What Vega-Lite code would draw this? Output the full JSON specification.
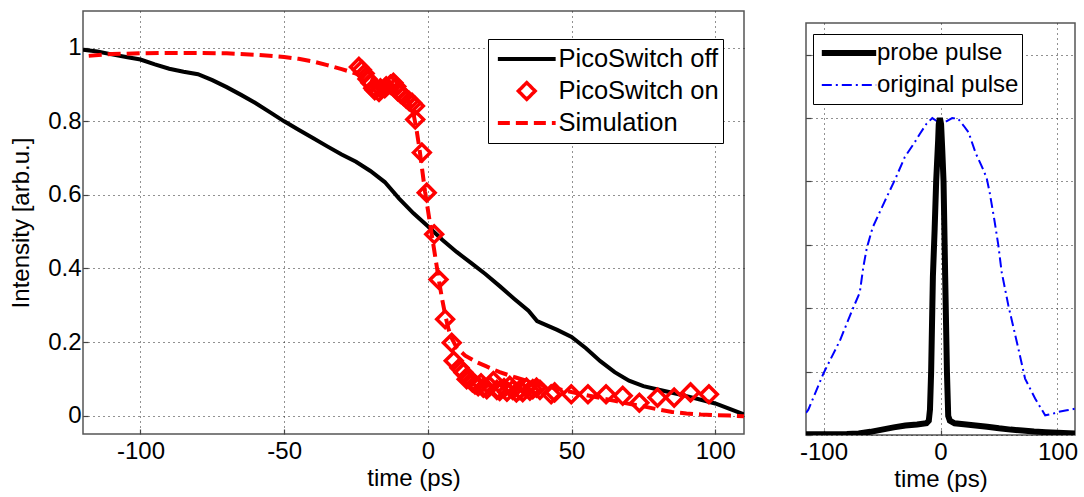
{
  "$schema": "https://vega.github.io/schema/vega-lite/v6.json",
  "background": "white",
  "padding": {"left": 8, "top": 10, "right": 0, "bottom": 0},
  "config": {
    "font": "Liberation Sans",
    "view": {"stroke": "#555", "strokeWidth": 1.5},
    "axis": {
      "labelFont": "Liberation Sans", "titleFont": "Liberation Sans",
      "labelColor": "black", "titleColor": "black", "titleFontWeight": "normal",
      "labelFontSize": 24, "titleFontSize": 24,
      "gridColor": "#222", "gridDash": [1, 4], "gridWidth": 1, "gridOpacity": 1,
      "domain": false, "tickColor": "#444", "tickSize": -5, "tickWidth": 1.2,
      "labelFlush": false, "labelOverlap": false
    },
    "axisX": {"labelPadding": 10},
    "axisY": {"labelPadding": 7}
  },
  "datasets": {
    "off": [
      {"t": -120, "v": 0.995, "series": "PicoSwitch off"}, {"t": -115, "v": 0.99, "series": "PicoSwitch off"},
      {"t": -110, "v": 0.982, "series": "PicoSwitch off"}, {"t": -105, "v": 0.975, "series": "PicoSwitch off"},
      {"t": -100, "v": 0.968, "series": "PicoSwitch off"}, {"t": -95, "v": 0.955, "series": "PicoSwitch off"},
      {"t": -90, "v": 0.943, "series": "PicoSwitch off"}, {"t": -85, "v": 0.935, "series": "PicoSwitch off"},
      {"t": -80, "v": 0.928, "series": "PicoSwitch off"}, {"t": -75, "v": 0.912, "series": "PicoSwitch off"},
      {"t": -70, "v": 0.893, "series": "PicoSwitch off"}, {"t": -65, "v": 0.872, "series": "PicoSwitch off"},
      {"t": -60, "v": 0.85, "series": "PicoSwitch off"}, {"t": -55, "v": 0.825, "series": "PicoSwitch off"},
      {"t": -50, "v": 0.8, "series": "PicoSwitch off"}, {"t": -45, "v": 0.777, "series": "PicoSwitch off"},
      {"t": -40, "v": 0.755, "series": "PicoSwitch off"}, {"t": -35, "v": 0.732, "series": "PicoSwitch off"},
      {"t": -30, "v": 0.71, "series": "PicoSwitch off"}, {"t": -25, "v": 0.69, "series": "PicoSwitch off"},
      {"t": -20, "v": 0.665, "series": "PicoSwitch off"}, {"t": -15, "v": 0.635, "series": "PicoSwitch off"},
      {"t": -10, "v": 0.59, "series": "PicoSwitch off"}, {"t": -5, "v": 0.55, "series": "PicoSwitch off"},
      {"t": 0, "v": 0.515, "series": "PicoSwitch off"}, {"t": 5, "v": 0.478, "series": "PicoSwitch off"},
      {"t": 10, "v": 0.445, "series": "PicoSwitch off"}, {"t": 15, "v": 0.415, "series": "PicoSwitch off"},
      {"t": 20, "v": 0.385, "series": "PicoSwitch off"}, {"t": 25, "v": 0.352, "series": "PicoSwitch off"},
      {"t": 30, "v": 0.318, "series": "PicoSwitch off"}, {"t": 35, "v": 0.285, "series": "PicoSwitch off"},
      {"t": 38, "v": 0.257, "series": "PicoSwitch off"}, {"t": 40, "v": 0.25, "series": "PicoSwitch off"},
      {"t": 45, "v": 0.233, "series": "PicoSwitch off"}, {"t": 50, "v": 0.214, "series": "PicoSwitch off"},
      {"t": 55, "v": 0.183, "series": "PicoSwitch off"}, {"t": 60, "v": 0.148, "series": "PicoSwitch off"},
      {"t": 65, "v": 0.118, "series": "PicoSwitch off"}, {"t": 70, "v": 0.095, "series": "PicoSwitch off"},
      {"t": 75, "v": 0.08, "series": "PicoSwitch off"}, {"t": 80, "v": 0.071, "series": "PicoSwitch off"},
      {"t": 85, "v": 0.062, "series": "PicoSwitch off"}, {"t": 90, "v": 0.053, "series": "PicoSwitch off"},
      {"t": 95, "v": 0.043, "series": "PicoSwitch off"}, {"t": 100, "v": 0.033, "series": "PicoSwitch off"},
      {"t": 105, "v": 0.018, "series": "PicoSwitch off"}, {"t": 110, "v": 0.003, "series": "PicoSwitch off"}
    ],
    "on": [
      {"t": -24, "v": 0.948, "series": "PicoSwitch on"}, {"t": -23, "v": 0.94, "series": "PicoSwitch on"},
      {"t": -22, "v": 0.93, "series": "PicoSwitch on"}, {"t": -21, "v": 0.915, "series": "PicoSwitch on"},
      {"t": -20, "v": 0.905, "series": "PicoSwitch on"}, {"t": -19, "v": 0.89, "series": "PicoSwitch on"},
      {"t": -18.5, "v": 0.885, "series": "PicoSwitch on"}, {"t": -17, "v": 0.88, "series": "PicoSwitch on"},
      {"t": -16.5, "v": 0.89, "series": "PicoSwitch on"}, {"t": -15, "v": 0.89, "series": "PicoSwitch on"},
      {"t": -14.5, "v": 0.895, "series": "PicoSwitch on"}, {"t": -13, "v": 0.9, "series": "PicoSwitch on"},
      {"t": -12, "v": 0.905, "series": "PicoSwitch on"}, {"t": -11, "v": 0.895, "series": "PicoSwitch on"},
      {"t": -10.5, "v": 0.882, "series": "PicoSwitch on"}, {"t": -9.5, "v": 0.875, "series": "PicoSwitch on"},
      {"t": -8.5, "v": 0.869, "series": "PicoSwitch on"}, {"t": -7.5, "v": 0.862, "series": "PicoSwitch on"},
      {"t": -6.5, "v": 0.855, "series": "PicoSwitch on"}, {"t": -5.5, "v": 0.85, "series": "PicoSwitch on"},
      {"t": -4.5, "v": 0.842, "series": "PicoSwitch on"}, {"t": -4.4, "v": 0.805, "series": "PicoSwitch on"},
      {"t": -2.1, "v": 0.715, "series": "PicoSwitch on"}, {"t": -0.4, "v": 0.606, "series": "PicoSwitch on"},
      {"t": 2.2, "v": 0.493, "series": "PicoSwitch on"}, {"t": 3.7, "v": 0.37, "series": "PicoSwitch on"},
      {"t": 6, "v": 0.262, "series": "PicoSwitch on"}, {"t": 8.3, "v": 0.198, "series": "PicoSwitch on"},
      {"t": 9, "v": 0.149, "series": "PicoSwitch on"}, {"t": 11, "v": 0.13, "series": "PicoSwitch on"},
      {"t": 12.4, "v": 0.117, "series": "PicoSwitch on"}, {"t": 13.5, "v": 0.099, "series": "PicoSwitch on"},
      {"t": 14.5, "v": 0.1, "series": "PicoSwitch on"}, {"t": 15.5, "v": 0.09, "series": "PicoSwitch on"},
      {"t": 16.4, "v": 0.085, "series": "PicoSwitch on"}, {"t": 17.5, "v": 0.08, "series": "PicoSwitch on"},
      {"t": 18.5, "v": 0.088, "series": "PicoSwitch on"}, {"t": 19.3, "v": 0.076, "series": "PicoSwitch on"},
      {"t": 20.5, "v": 0.072, "series": "PicoSwitch on"}, {"t": 21.5, "v": 0.08, "series": "PicoSwitch on"},
      {"t": 22.8, "v": 0.094, "series": "PicoSwitch on"}, {"t": 24, "v": 0.07, "series": "PicoSwitch on"},
      {"t": 25, "v": 0.067, "series": "PicoSwitch on"}, {"t": 26.5, "v": 0.075, "series": "PicoSwitch on"},
      {"t": 27.5, "v": 0.065, "series": "PicoSwitch on"}, {"t": 28.5, "v": 0.081, "series": "PicoSwitch on"},
      {"t": 29.5, "v": 0.07, "series": "PicoSwitch on"}, {"t": 30.8, "v": 0.063, "series": "PicoSwitch on"},
      {"t": 32, "v": 0.07, "series": "PicoSwitch on"}, {"t": 33, "v": 0.064, "series": "PicoSwitch on"},
      {"t": 34.3, "v": 0.076, "series": "PicoSwitch on"}, {"t": 35.5, "v": 0.068, "series": "PicoSwitch on"},
      {"t": 36.5, "v": 0.072, "series": "PicoSwitch on"}, {"t": 37.8, "v": 0.076, "series": "PicoSwitch on"},
      {"t": 39, "v": 0.07, "series": "PicoSwitch on"}, {"t": 42.9, "v": 0.058, "series": "PicoSwitch on"},
      {"t": 44.1, "v": 0.063, "series": "PicoSwitch on"}, {"t": 49.9, "v": 0.058, "series": "PicoSwitch on"},
      {"t": 55.7, "v": 0.058, "series": "PicoSwitch on"}, {"t": 62, "v": 0.058, "series": "PicoSwitch on"},
      {"t": 67.8, "v": 0.054, "series": "PicoSwitch on"}, {"t": 73.6, "v": 0.035, "series": "PicoSwitch on"},
      {"t": 79.9, "v": 0.049, "series": "PicoSwitch on"}, {"t": 85.7, "v": 0.049, "series": "PicoSwitch on"},
      {"t": 91.4, "v": 0.063, "series": "PicoSwitch on"}, {"t": 97.8, "v": 0.058, "series": "PicoSwitch on"}
    ],
    "sim": [
      {"t": -118, "v": 0.978, "series": "Simulation"}, {"t": -110, "v": 0.983, "series": "Simulation"},
      {"t": -100, "v": 0.985, "series": "Simulation"}, {"t": -90, "v": 0.986, "series": "Simulation"},
      {"t": -80, "v": 0.986, "series": "Simulation"}, {"t": -70, "v": 0.985, "series": "Simulation"},
      {"t": -60, "v": 0.981, "series": "Simulation"}, {"t": -50, "v": 0.975, "series": "Simulation"},
      {"t": -45, "v": 0.97, "series": "Simulation"}, {"t": -40, "v": 0.963, "series": "Simulation"},
      {"t": -35, "v": 0.953, "series": "Simulation"}, {"t": -30, "v": 0.942, "series": "Simulation"},
      {"t": -25, "v": 0.93, "series": "Simulation"}, {"t": -20, "v": 0.915, "series": "Simulation"},
      {"t": -15, "v": 0.9, "series": "Simulation"}, {"t": -10, "v": 0.88, "series": "Simulation"},
      {"t": -7, "v": 0.86, "series": "Simulation"}, {"t": -5, "v": 0.82, "series": "Simulation"},
      {"t": -4, "v": 0.78, "series": "Simulation"}, {"t": -3, "v": 0.73, "series": "Simulation"},
      {"t": -2, "v": 0.67, "series": "Simulation"}, {"t": -1, "v": 0.61, "series": "Simulation"},
      {"t": 0, "v": 0.56, "series": "Simulation"}, {"t": 1, "v": 0.51, "series": "Simulation"},
      {"t": 2, "v": 0.46, "series": "Simulation"}, {"t": 3, "v": 0.41, "series": "Simulation"},
      {"t": 4, "v": 0.36, "series": "Simulation"}, {"t": 5, "v": 0.315, "series": "Simulation"},
      {"t": 6, "v": 0.275, "series": "Simulation"}, {"t": 7, "v": 0.24, "series": "Simulation"},
      {"t": 8, "v": 0.215, "series": "Simulation"}, {"t": 10, "v": 0.185, "series": "Simulation"},
      {"t": 13, "v": 0.163, "series": "Simulation"}, {"t": 17, "v": 0.145, "series": "Simulation"},
      {"t": 20, "v": 0.135, "series": "Simulation"}, {"t": 25, "v": 0.118, "series": "Simulation"},
      {"t": 30, "v": 0.105, "series": "Simulation"}, {"t": 35, "v": 0.093, "series": "Simulation"},
      {"t": 40, "v": 0.083, "series": "Simulation"}, {"t": 45, "v": 0.073, "series": "Simulation"},
      {"t": 50, "v": 0.064, "series": "Simulation"}, {"t": 55, "v": 0.056, "series": "Simulation"},
      {"t": 60, "v": 0.048, "series": "Simulation"}, {"t": 65, "v": 0.04, "series": "Simulation"},
      {"t": 70, "v": 0.032, "series": "Simulation"}, {"t": 75, "v": 0.025, "series": "Simulation"},
      {"t": 80, "v": 0.017, "series": "Simulation"}, {"t": 85, "v": 0.01, "series": "Simulation"},
      {"t": 90, "v": 0.006, "series": "Simulation"}, {"t": 95, "v": 0.003, "series": "Simulation"},
      {"t": 100, "v": 0.001, "series": "Simulation"}, {"t": 105, "v": 0.0, "series": "Simulation"},
      {"t": 110, "v": -0.002, "series": "Simulation"}
    ],
    "probe": [
      {"t": -115, "v": 0.002, "series": "probe pulse"}, {"t": -100, "v": 0.002, "series": "probe pulse"},
      {"t": -80, "v": 0.003, "series": "probe pulse"}, {"t": -70, "v": 0.005, "series": "probe pulse"},
      {"t": -60, "v": 0.01, "series": "probe pulse"}, {"t": -50, "v": 0.017, "series": "probe pulse"},
      {"t": -40, "v": 0.024, "series": "probe pulse"}, {"t": -30, "v": 0.03, "series": "probe pulse"},
      {"t": -20, "v": 0.033, "series": "probe pulse"}, {"t": -12, "v": 0.037, "series": "probe pulse"},
      {"t": -10, "v": 0.045, "series": "probe pulse"}, {"t": -9, "v": 0.08, "series": "probe pulse"},
      {"t": -8, "v": 0.2, "series": "probe pulse"}, {"t": -6.5, "v": 0.5, "series": "probe pulse"},
      {"t": -5, "v": 0.65, "series": "probe pulse"}, {"t": -3.7, "v": 0.8, "series": "probe pulse"},
      {"t": -2, "v": 0.93, "series": "probe pulse"}, {"t": -1.5, "v": 0.98, "series": "probe pulse"},
      {"t": -0.5, "v": 1.0, "series": "probe pulse"}, {"t": 0.5, "v": 0.98, "series": "probe pulse"},
      {"t": 1.5, "v": 0.9, "series": "probe pulse"}, {"t": 2.6, "v": 0.8, "series": "probe pulse"},
      {"t": 4, "v": 0.5, "series": "probe pulse"}, {"t": 5.5, "v": 0.2, "series": "probe pulse"},
      {"t": 6.6, "v": 0.06, "series": "probe pulse"}, {"t": 8, "v": 0.045, "series": "probe pulse"},
      {"t": 12, "v": 0.037, "series": "probe pulse"}, {"t": 20, "v": 0.034, "series": "probe pulse"},
      {"t": 30, "v": 0.03, "series": "probe pulse"}, {"t": 40, "v": 0.026, "series": "probe pulse"},
      {"t": 50, "v": 0.021, "series": "probe pulse"}, {"t": 60, "v": 0.017, "series": "probe pulse"},
      {"t": 70, "v": 0.014, "series": "probe pulse"}, {"t": 80, "v": 0.011, "series": "probe pulse"},
      {"t": 90, "v": 0.009, "series": "probe pulse"}, {"t": 100, "v": 0.007, "series": "probe pulse"},
      {"t": 115, "v": 0.005, "series": "probe pulse"}
    ],
    "orig": [
      {"t": -115, "v": 0.07, "series": "original pulse"}, {"t": -113, "v": 0.08, "series": "original pulse"},
      {"t": -100, "v": 0.195, "series": "original pulse"}, {"t": -86, "v": 0.298, "series": "original pulse"},
      {"t": -75, "v": 0.398, "series": "original pulse"}, {"t": -69, "v": 0.45, "series": "original pulse"},
      {"t": -66, "v": 0.53, "series": "original pulse"}, {"t": -63, "v": 0.59, "series": "original pulse"},
      {"t": -58, "v": 0.655, "series": "original pulse"}, {"t": -48, "v": 0.735, "series": "original pulse"},
      {"t": -39, "v": 0.805, "series": "original pulse"}, {"t": -30.5, "v": 0.877, "series": "original pulse"},
      {"t": -22, "v": 0.924, "series": "original pulse"}, {"t": -17.7, "v": 0.95, "series": "original pulse"},
      {"t": -12, "v": 0.982, "series": "original pulse"}, {"t": -7, "v": 1.0, "series": "original pulse"},
      {"t": -3, "v": 0.99, "series": "original pulse"}, {"t": 1, "v": 0.98, "series": "original pulse"},
      {"t": 5, "v": 0.99, "series": "original pulse"}, {"t": 10, "v": 1.0, "series": "original pulse"},
      {"t": 15, "v": 0.998, "series": "original pulse"}, {"t": 20, "v": 0.975, "series": "original pulse"},
      {"t": 24, "v": 0.955, "series": "original pulse"}, {"t": 30, "v": 0.89, "series": "original pulse"},
      {"t": 35, "v": 0.85, "series": "original pulse"}, {"t": 39.4, "v": 0.812, "series": "original pulse"},
      {"t": 42, "v": 0.766, "series": "original pulse"}, {"t": 46, "v": 0.68, "series": "original pulse"},
      {"t": 49.4, "v": 0.6, "series": "original pulse"}, {"t": 52.3, "v": 0.514, "series": "original pulse"},
      {"t": 58, "v": 0.409, "series": "original pulse"}, {"t": 66.6, "v": 0.272, "series": "original pulse"},
      {"t": 72.3, "v": 0.178, "series": "original pulse"}, {"t": 80.9, "v": 0.115, "series": "original pulse"},
      {"t": 89.5, "v": 0.062, "series": "original pulse"}, {"t": 95, "v": 0.066, "series": "original pulse"},
      {"t": 100.9, "v": 0.073, "series": "original pulse"}, {"t": 108, "v": 0.078, "series": "original pulse"},
      {"t": 115, "v": 0.083, "series": "original pulse"}
    ]
  },
  "spacing": 53,
  "resolve": {"scale": {"color": "independent", "x": "independent", "y": "independent"}, "legend": {"color": "independent"}},
  "hconcat": [
    {
      "width": 661,
      "height": 423,
      "encoding": {
        "x": {"field": "t", "type": "quantitative", "scale": {"domain": [-120, 110], "nice": false, "zero": false},
          "axis": {"values": [-100, -50, 0, 50, 100], "grid": true, "title": "time (ps)", "titlePadding": 3,
            "labelExpr": "datum.value < 0 ? '-' + format(-datum.value, 'd') : format(datum.value, 'd')"}},
        "y": {"field": "v", "type": "quantitative", "scale": {"domain": [-0.05, 1.1], "nice": false, "zero": false},
          "axis": {"values": [0, 0.2, 0.4, 0.6, 0.8, 1], "grid": true, "title": "Intensity [arb.u.]", "titlePadding": 14,
            "labelExpr": "format(datum.value, '~g')"}},
        "color": {"field": "series", "type": "nominal",
          "scale": {"domain": ["PicoSwitch off", "PicoSwitch on", "Simulation"], "range": ["black", "red", "red"]},
          "legend": {
            "orient": "none", "legendX": 405, "legendY": 28, "direction": "vertical",
            "title": null, "strokeColor": "black", "fillColor": "white", "padding": 4,
            "labelFont": "Liberation Sans", "labelFontSize": 25.5, "labelColor": "black", "labelLimit": 400,
            "symbolType": "stroke", "symbolSize": 3340, "symbolOffset": 22, "labelOffset": 19,
            "clipHeight": 32, "rowPadding": 0,
            "encode": {"symbols": {"update": {
              "shape": {"signal": "datum.value === 'PicoSwitch on' ? 'diamond' : 'stroke'"},
              "size": {"signal": "datum.value === 'PicoSwitch on' ? 280 : 3340"},
              "strokeDash": {"signal": "datum.value === 'Simulation' ? [12, 6] : [1, 0]"},
              "strokeWidth": {"signal": "datum.value === 'PicoSwitch on' ? 3.5 : 4"},
              "fill": {"value": "transparent"},
              "stroke": {"signal": "datum.value === 'PicoSwitch off' ? 'black' : 'red'"}
            }}}
          }}
      },
      "layer": [
        {"data": {"name": "off"}, "mark": {"type": "line", "strokeWidth": 4, "clip": true}},
        {"data": {"name": "on"}, "mark": {"type": "point", "shape": "diamond", "filled": false, "size": 280, "strokeWidth": 3.5, "opacity": 1, "clip": true}},
        {"data": {"name": "sim"}, "mark": {"type": "line", "strokeWidth": 4, "strokeDash": [13, 6], "clip": true}}
      ]
    },
    {
      "spacing": 0,
      "vconcat": [
        {
          "width": 269,
          "height": 11,
          "data": {"values": []},
          "mark": {"type": "point"},
          "view": {"stroke": null}
        },
        {
          "width": 269,
          "height": 412,
          "encoding": {
            "x": {"field": "t", "type": "quantitative", "scale": {"domain": [-115, 115], "nice": false, "zero": false},
              "axis": {"values": [-100, 0, 100], "grid": true, "title": "time (ps)", "titlePadding": 3,
                "labelExpr": "datum.value < 0 ? '-' + format(-datum.value, 'd') : format(datum.value, 'd')"}},
            "y": {"field": "v", "type": "quantitative", "scale": {"domain": [0, 1.3], "nice": false, "zero": false},
              "axis": {"values": [0, 0.2, 0.4, 0.6, 0.8, 1, 1.2], "grid": true, "labels": false, "title": null}},
            "color": {"field": "series", "type": "nominal",
              "scale": {"domain": ["probe pulse", "original pulse"], "range": ["black", "blue"]},
              "legend": {
                "orient": "none", "legendX": 7, "legendY": 23, "direction": "vertical",
                "title": null, "strokeColor": "black", "fillColor": "white", "padding": 3,
                "labelFont": "Liberation Sans", "labelFontSize": 24, "labelColor": "black", "labelLimit": 400,
                "symbolType": "stroke", "symbolSize": 2960, "symbolOffset": 21, "labelOffset": 16,
                "clipHeight": 32, "rowPadding": 0,
                "encode": {"symbols": {"update": {
                  "strokeDash": {"signal": "datum.value === 'original pulse' ? [10, 4, 2, 4] : [1, 0]"},
                  "strokeWidth": {"signal": "datum.value === 'original pulse' ? 2 : 6"},
                  "stroke": {"signal": "datum.value === 'probe pulse' ? 'black' : 'blue'"}
                }}}
              }}
          },
          "layer": [
            {"data": {"name": "orig"}, "mark": {"type": "line", "strokeWidth": 2, "strokeDash": [10, 4, 2, 4], "clip": true}},
            {"data": {"name": "probe"}, "mark": {"type": "line", "strokeWidth": 6, "clip": true}}
          ]
        }
      ]
    }
  ]
}
